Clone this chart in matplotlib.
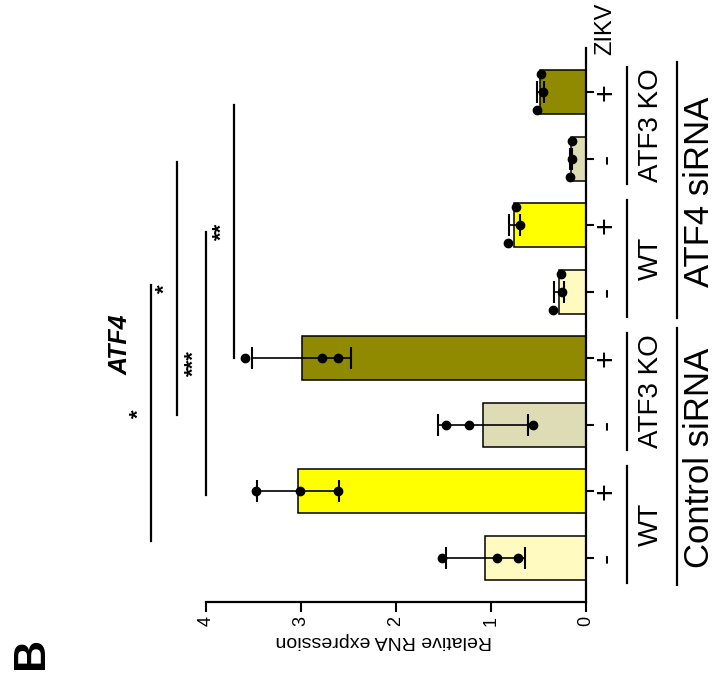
import numpy as np
import matplotlib
matplotlib.use("Agg")
import matplotlib.pyplot as plt

plt.rcParams['font.family'] = ['Liberation Sans', 'DejaVu Sans']

# one entry per bar, bottom to top: Control siRNA (WT -, WT +, KO -, KO +), then ATF4 siRNA
zikv = ['-', '+', '-', '+', '-', '+', '-', '+']
genotype = ['WT', 'ATF3 KO', 'WT', 'ATF3 KO']
sirna = ['Control siRNA', 'ATF4 siRNA']
replicates = [
    [1.52, 0.94, 0.72],
    [3.47, 3.01, 2.61],
    [1.47, 1.23, 0.56],
    [3.59, 2.78, 2.61],
    [0.35, 0.26, 0.25],
    [0.82, 0.74, 0.70],
    [0.15, 0.17, 0.15],
    [0.47, 0.52, 0.45],
]
colors = ['#FFFBC0', '#FFFF00', '#DEDCB5', '#8F8A00'] * 2

# significance: (from bar, to bar, height, stars)
sig = [
    (0.25, 4.1, 4.58, '*'),
    (2.15, 5.95, 4.31, '*'),
    (0.95, 4.9, 4.0, '***'),
    (3.0, 6.8, 3.71, '**'),
]

means = [np.mean(r) for r in replicates]
sds = [np.std(r, ddof=1) for r in replicates]
pos = np.arange(len(means))

fig = plt.figure(figsize=(7.17, 6.81), dpi=100)
ax = fig.add_axes([206 / 717, 1 - 602 / 681, 380 / 717, 554 / 681])

ax.barh(pos, means, height=0.66, color=colors, edgecolor='black', linewidth=1.1, zorder=2)
ax.errorbar(means, pos, xerr=sds, fmt='none', ecolor='black', elinewidth=1.2,
            capsize=8, capthick=1.5, zorder=3)


def swarm(vals, px_per_x=95.0, px_per_y=66.6, gap=13.0, step=18.0):
    # spread overlapping dots sideways so they don't sit on each other
    placed = []
    offs = {}
    for i in np.argsort(vals):
        x = vals[i] * px_per_x
        for k in [0, 1, -1, 2, -2, 3, -3]:
            y = k * step
            if all(np.hypot(x - px, y - py) >= gap for px, py in placed):
                break
        placed.append((x, y))
        offs[i] = y / px_per_y
    return [offs[i] for i in range(len(vals))]


for p, r in zip(pos, replicates):
    ax.plot(r, p + np.array(swarm(r)), 'o', color='black', markersize=6, zorder=4)

ax.set_xlim(4, 0)
ax.set_ylim(-0.66, 7.66)
ax.set_xticks([0, 1, 2, 3, 4])
ax.set_xticklabels(['0', '1', '2', '3', '4'], rotation=90, fontsize=13)
ax.tick_params(axis='x', length=7, width=1.5, pad=3)
ax.yaxis.tick_right()
ax.set_yticks(pos)
ax.set_yticklabels([])
ax.tick_params(axis='y', length=6, width=1.5)
for s in ['left', 'top']:
    ax.spines[s].set_visible(False)
for s in ['right', 'bottom']:
    ax.spines[s].set_linewidth(1.6)

# significance lines
for a, b, h, txt in sig:
    ax.plot([h, h], [a, b], color='black', lw=1.6, clip_on=False)
    ax.text(h + 0.12, (a + b) / 2, txt, rotation=90, ha='center', va='center',
            fontsize=16, fontweight='bold', clip_on=False)

# category labels on the right
tr = ax.get_yaxis_transform()
for p, z in zip(pos, zikv):
    ax.text(1.053, p, z, transform=tr, rotation=90, ha='center', va='center', fontsize=22)
ax.text(1.05, 7.95, 'ZIKV', transform=tr, rotation=90, ha='center', va='center', fontsize=17)

for g, name in enumerate(genotype):
    c = 2 * g + 0.5
    ax.plot([1.108, 1.108], [c - 0.88, c + 0.88], transform=tr, color='black', lw=1.6, clip_on=False)
    ax.text(1.172, c, name, transform=tr, rotation=90, ha='center', va='center', fontsize=20)

for g, name in enumerate(sirna):
    c = 4 * g + 1.5
    ax.plot([1.239, 1.239], [c - 1.9, c + 1.95], transform=tr, color='black', lw=1.6, clip_on=False)
    ax.text(1.298, c, name, transform=tr, rotation=90, ha='center', va='center', fontsize=25)

fig.text(384 / 717, 1 - 640 / 681, 'Relative RNA expression', rotation=180,
         ha='center', va='center', fontsize=14)
fig.text(121 / 717, 1 - 345 / 681, 'ATF4', rotation=90, ha='center', va='center',
         fontsize=18, fontweight='bold', fontstyle='italic')
fig.text(31 / 717, 1 - 653 / 681, 'B', rotation=90, ha='center', va='center',
         fontsize=32, fontweight='bold')

fig.savefig('out.png', dpi=100)
